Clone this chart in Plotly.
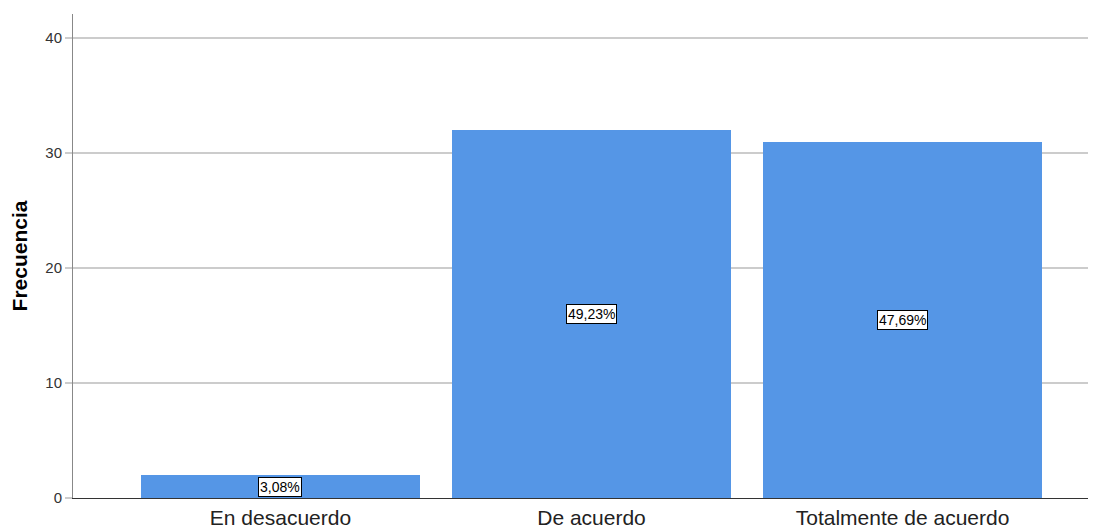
import plotly.graph_objects as go

categories = ["En desacuerdo", "De acuerdo", "Totalmente de acuerdo"]
frecuencias = [2, 32, 31]
porcentajes = ["3,08%", "49,23%", "47,69%"]
y_ticks = [0, 10, 20, 30, 40]

fig = go.Figure()
fig.add_trace(go.Bar(
    x=list(range(len(categories))), y=frecuencias,
    marker=dict(color="#5596E6", line=dict(width=0)),
    width=0.897, hoverinfo="skip",
))

for i, (v, p) in enumerate(zip(frecuencias, porcentajes)):
    fig.add_annotation(
        x=i, y=v / 2, text=p, showarrow=False,
        font=dict(family="Liberation Sans, Arial", size=14, color="black"),
        bgcolor="white", bordercolor="black", borderwidth=1, borderpad=1,
    )

fig.update_layout(
    width=1088, height=521,
    margin=dict(l=65, r=0, t=6, b=31),
    plot_bgcolor="white", paper_bgcolor="white",
    showlegend=False,
    bargap=0,
    font=dict(family="Liberation Sans, Arial", color="#333333"),
)
fig.update_xaxes(
    range=[-0.667, 2.622],
    tickmode="array", tickvals=list(range(len(categories))), ticktext=categories,
    tickfont=dict(size=21, color="#222222"),
    showgrid=False, zeroline=False,
    showline=True, linecolor="#333333", linewidth=1,
    ticks="", ticklabelstandoff=1,
)
fig.update_yaxes(
    range=[0, 42.1],
    tickmode="array", tickvals=y_ticks,
    tickfont=dict(size=15, color="#333333"),
    showgrid=True, gridcolor="#CCCCCC", gridwidth=1.5,
    zeroline=False,
    showline=True, linecolor="#888888", linewidth=1,
    ticks="outside", ticklen=7, tickcolor="#CCCCCC", tickwidth=1.5,
    ticklabelstandoff=0,
    title=dict(text="<b>Frecuencia</b>", font=dict(size=21, color="black"), standoff=14),
)

fig.write_html("out.html")
